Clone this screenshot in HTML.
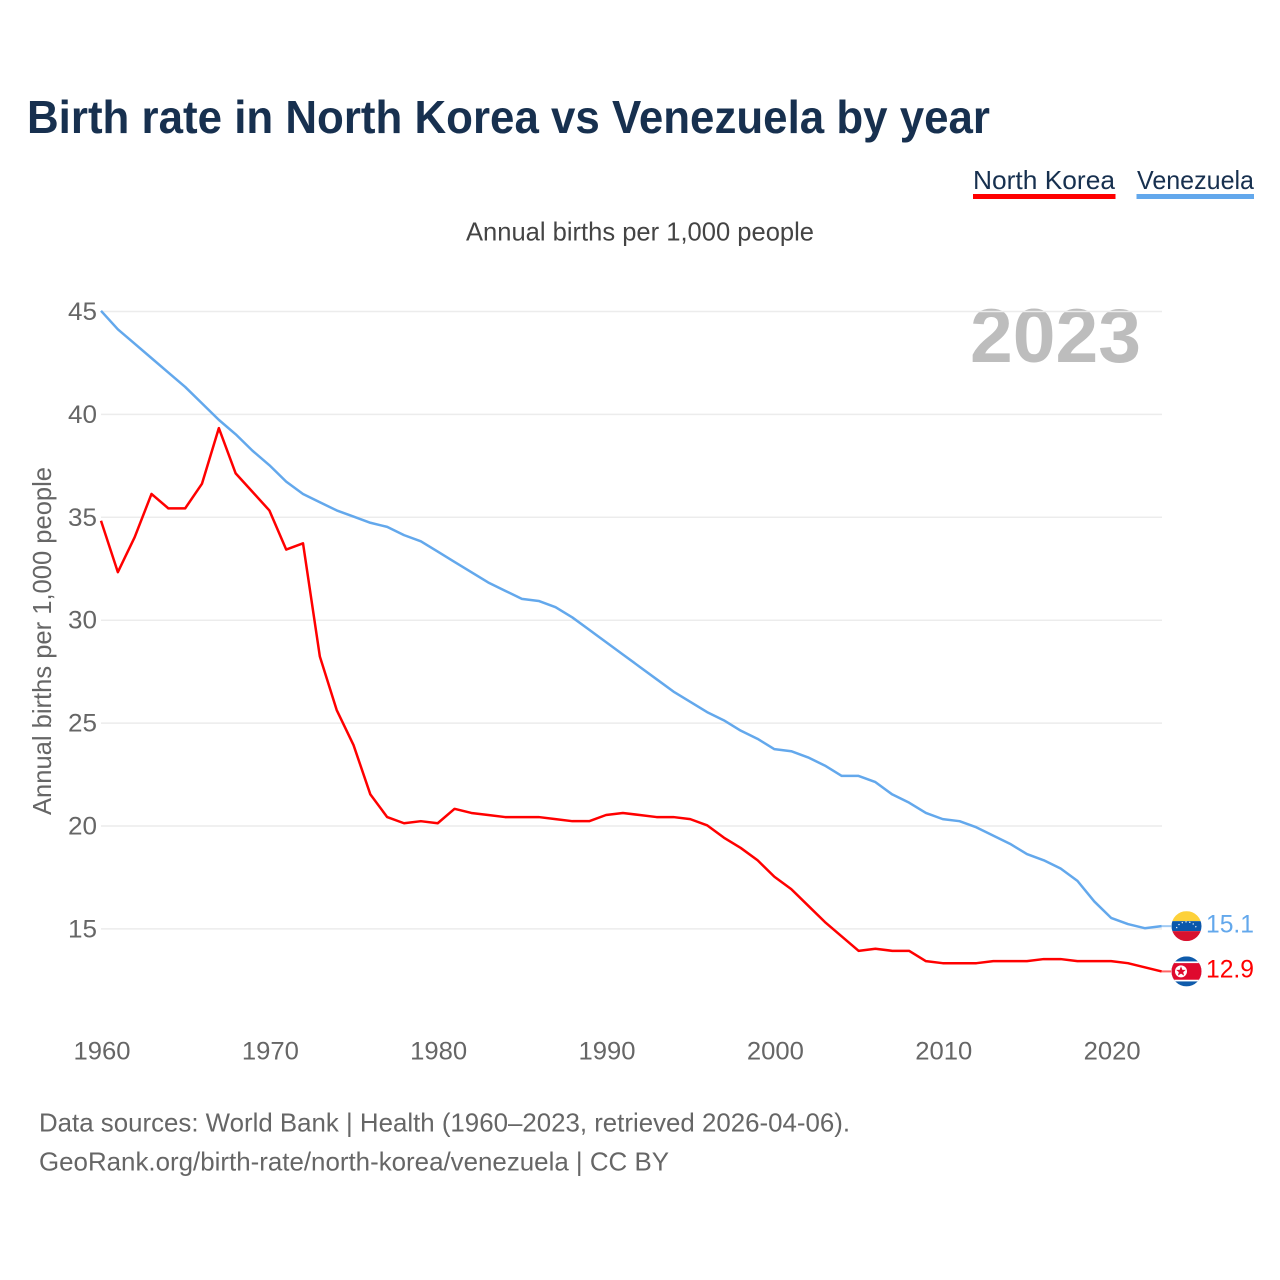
<!DOCTYPE html>
<html lang="en">
<head>
<meta charset="utf-8">
<title>Birth rate in North Korea vs Venezuela by year</title>
<style>
html,body{margin:0;padding:0;background:#fff;}
svg{display:block;font-family:"Liberation Sans",sans-serif;}
</style>
</head>
<body>
<svg id="chart" xmlns="http://www.w3.org/2000/svg" width="1280" height="1280" viewBox="0 0 1280 1280">
  <rect x="0" y="0" width="1280" height="1280" fill="#ffffff"/>
  <text x="27" y="133" font-size="46" font-weight="700" fill="#17304f" textLength="963" lengthAdjust="spacingAndGlyphs">Birth rate in North Korea vs Venezuela by year</text>
  <g>
    <g>
      <text x="973" y="189" font-size="26" fill="#17304f" textLength="142" lengthAdjust="spacingAndGlyphs">North Korea</text>
      <rect x="973" y="194" width="142.5" height="5" fill="#ff0000"/>
    </g>
    <g>
      <text x="1137" y="189" font-size="26" fill="#17304f" textLength="117" lengthAdjust="spacingAndGlyphs">Venezuela</text>
      <rect x="1136.5" y="194" width="117.5" height="5" fill="#63a8ec"/>
    </g>
  </g>
  <text x="466" y="240.5" font-size="26" fill="#444444" textLength="348" lengthAdjust="spacingAndGlyphs">Annual births per 1,000 people</text>
  <text x="970" y="362" font-size="76" font-weight="700" fill="#bdbdbd" textLength="171" lengthAdjust="spacingAndGlyphs">2023</text>
  <text transform="translate(51 815) rotate(-90)" font-size="26" fill="#666666" textLength="348" lengthAdjust="spacingAndGlyphs">Annual births per 1,000 people</text>
  <g id="grid"></g>
  <g id="yticks"></g>
  <g id="xticks"></g>
  <g id="series" transform="translate(0 -0.7)"></g>
  <defs>
    <clipPath id="flag-clip"><circle cx="0" cy="0" r="15"/></clipPath>
  </defs>
  <g id="flag-ve">
    <g clip-path="url(#flag-clip)">
      <rect x="-15" y="-15" width="30" height="10" fill="#fdd13a"/>
      <rect x="-15" y="-5" width="30" height="10" fill="#0b58ab"/>
      <rect x="-15" y="5" width="30" height="10" fill="#d8122f"/>
      <path d="M-10 2 A10.5 9 0 0 1 10 2" fill="none" stroke="#ffffff" stroke-width="1.2" stroke-dasharray="1.2 2.6"/>
    </g>
  </g>
  <g id="flag-kp">
    <g clip-path="url(#flag-clip)">
      <rect x="-15" y="-15" width="30" height="30" fill="#0f5bab"/>
      <rect x="-15" y="-10" width="30" height="20" fill="#ffffff"/>
      <rect x="-15" y="-8.3" width="30" height="16.6" fill="#df0a2e"/>
      <circle cx="-5.5" cy="0" r="6" fill="#ffffff"/>
      <path d="M-5.5 -5 L-4.1 -1.5 L-0.7 -1.5 L-3.3 0.7 L-2.4 4.2 L-5.5 2.2 L-8.6 4.2 L-7.7 0.7 L-10.3 -1.5 L-6.9 -1.5 Z" fill="#df0a2e"/>
    </g>
  </g>
  <g id="end-labels"></g>
  <g>
    <text x="39" y="1131.5" font-size="26" fill="#666666" textLength="811" lengthAdjust="spacingAndGlyphs">Data sources: World Bank | Health (1960–2023, retrieved 2026-04-06).</text>
    <text x="39" y="1170.5" font-size="26" fill="#666666" textLength="630" lengthAdjust="spacingAndGlyphs">GeoRank.org/birth-rate/north-korea/venezuela | CC BY</text>
  </g>
</svg>
<script>
const startYear = 1960;
const northKorea = [34.8,32.3,34.0,36.1,35.4,35.4,36.6,39.3,37.1,36.2,35.3,33.4,33.7,28.2,25.6,23.9,21.5,20.4,20.1,20.2,20.1,20.8,20.6,20.5,20.4,20.4,20.4,20.3,20.2,20.2,20.5,20.6,20.5,20.4,20.4,20.3,20.0,19.4,18.9,18.3,17.5,16.9,16.1,15.3,14.6,13.9,14.0,13.9,13.9,13.4,13.3,13.3,13.3,13.4,13.4,13.4,13.5,13.5,13.4,13.4,13.4,13.3,13.1,12.9];
const venezuela = [45.0,44.1,43.4,42.7,42.0,41.3,40.5,39.7,39.0,38.2,37.5,36.7,36.1,35.7,35.3,35.0,34.7,34.5,34.1,33.8,33.3,32.8,32.3,31.8,31.4,31.0,30.9,30.6,30.1,29.5,28.9,28.3,27.7,27.1,26.5,26.0,25.5,25.1,24.6,24.2,23.7,23.6,23.3,22.9,22.4,22.4,22.1,21.5,21.1,20.6,20.3,20.2,19.9,19.5,19.1,18.6,18.3,17.9,17.3,16.3,15.5,15.2,15.0,15.1];
const yTickValues = [15,20,25,30,35,40,45];
const xTickValues = [1960,1970,1980,1990,2000,2010,2020];

const SVGNS = 'http://www.w3.org/2000/svg';
function xScale(year){ return 101 + (year - 1960) * 16.835; }
function yScale(v){ return 311.5 + (45 - v) * 20.58; }
function make(tag, parent, attrs, text){
  const el = document.createElementNS(SVGNS, tag);
  for (const k in attrs) el.setAttribute(k, attrs[k]);
  if (text !== undefined) el.textContent = text;
  parent.appendChild(el);
  return el;
}

const grid = document.getElementById('grid');
const yticks = document.getElementById('yticks');
yTickValues.forEach(function(v){
  const line = make('line', grid, {x1: 101, x2: 1162, y1: yScale(v), y2: yScale(v), stroke: '#ececec', 'stroke-width': 1.5});
  
  
  const label = make('text', yticks, {x: 68, y: yScale(v) + 8.5, 'font-size': 25, fill: '#666666', textLength: 29, lengthAdjust: 'spacingAndGlyphs'}, String(v));
  
  
});

const xticks = document.getElementById('xticks');
xTickValues.forEach(function(yr){
  const label = make('text', xticks, {x: xScale(yr) - 27.5, y: 1059.5, 'font-size': 25, fill: '#666666', textLength: 57, lengthAdjust: 'spacingAndGlyphs'}, String(yr));
  
  
});

function pointsFor(values){
  return values.map(function(v, i){ return xScale(startYear + i).toFixed(2) + ',' + yScale(v).toFixed(2); }).join(' ');
}
const series = document.getElementById('series');

const veLine = make('polyline', series, {points: pointsFor(venezuela), fill: 'none', stroke: '#63a8ec', 'stroke-width': 2.5, 'stroke-linejoin': 'round'});



const kpLine = make('polyline', series, {points: pointsFor(northKorea), fill: 'none', stroke: '#ff0000', 'stroke-width': 2.5, 'stroke-linejoin': 'round'});



const veEnd = venezuela[venezuela.length - 1];
const kpEnd = northKorea[northKorea.length - 1];
const endX = xScale(startYear + venezuela.length - 1);

const veLead = make('line', series, {x1: endX, x2: 1171, y1: yScale(veEnd), y2: yScale(veEnd), stroke: '#63a8ec', 'stroke-width': 2, opacity: 0.6});



const kpLead = make('line', series, {x1: endX, x2: 1171, y1: yScale(kpEnd), y2: yScale(kpEnd), stroke: '#ff0000', 'stroke-width': 2, opacity: 0.6});



document.getElementById('flag-ve').setAttribute('transform', 'translate(1186.5 ' + (yScale(veEnd) - 0.7) + ')');
document.getElementById('flag-kp').setAttribute('transform', 'translate(1186.5 ' + (yScale(kpEnd) - 0.7) + ')');

const endLabels = document.getElementById('end-labels');
const veLabel = make('text', endLabels, {x: 1206, y: yScale(veEnd) + 5.5, 'font-size': 25, fill: '#63a8ec', textLength: 48, lengthAdjust: 'spacingAndGlyphs'}, veEnd.toFixed(1));



const kpLabel = make('text', endLabels, {x: 1206, y: yScale(kpEnd) + 5.5, 'font-size': 25, fill: '#ff0000', textLength: 48, lengthAdjust: 'spacingAndGlyphs'}, kpEnd.toFixed(1));


</script>
</body>
</html>
